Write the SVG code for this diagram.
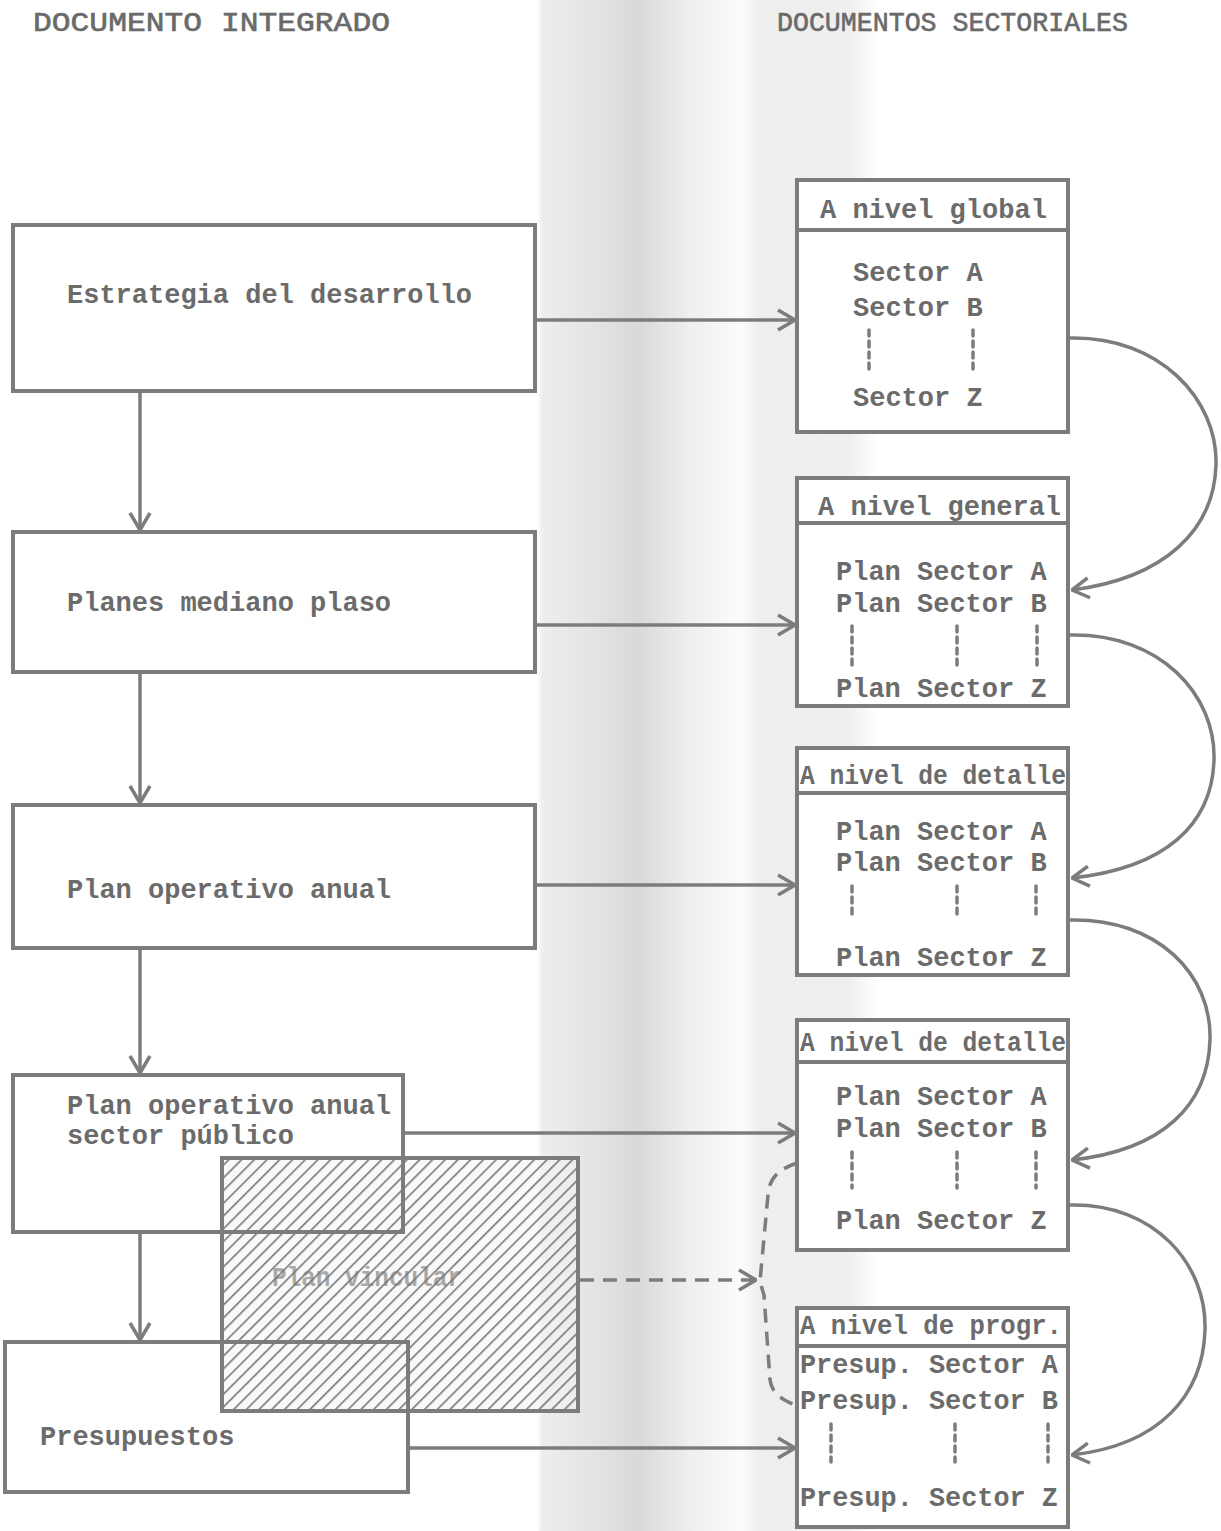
<svg xmlns="http://www.w3.org/2000/svg" width="1221" height="1531" viewBox="0 0 1221 1531">
<defs>
<style>
.t{font-family:"Liberation Mono","DejaVu Sans Mono",monospace;font-weight:bold;font-size:27px;fill:#6b6b6b}
.h{font-family:"Liberation Mono","DejaVu Sans Mono",monospace;font-size:27px;fill:#6a6a6a;stroke:#6a6a6a;stroke-width:0.6}
.b{fill:#fff;stroke:#7c7c7c;stroke-width:4}
.bn{fill:none;stroke:#7c7c7c;stroke-width:4}
.ln{fill:none;stroke:#7c7c7c;stroke-width:3.5}
.ds{fill:none;stroke:#7c7c7c;stroke-width:3.5;stroke-dasharray:14 9}
.dot{stroke:#7c7c7c;stroke-width:3.5;stroke-dasharray:6 5;stroke-linecap:round}
</style>
<marker id="v" viewBox="0 0 20 24" refX="19" refY="12" markerWidth="20" markerHeight="24" markerUnits="userSpaceOnUse" orient="auto">
<path d="M2,2 L19,12 L2,22" fill="none" stroke="#7c7c7c" stroke-width="3.5"/>
</marker>
<pattern id="hatch" width="9" height="9" patternUnits="userSpaceOnUse" patternTransform="rotate(45)">
<rect width="9" height="9" fill="#f4f4f4" fill-opacity="0.5"/>
<line x1="0" y1="0" x2="0" y2="9" stroke="#777777" stroke-width="3.2"/>
</pattern>
<linearGradient id="gut" x1="0" y1="0" x2="1" y2="0">
<stop offset="0" stop-color="#ffffff"/>
<stop offset="0.015" stop-color="#eeeeee"/>
<stop offset="0.16" stop-color="#e4e4e4"/>
<stop offset="0.30" stop-color="#d9d9d9"/>
<stop offset="0.45" stop-color="#efefef"/>
<stop offset="0.60" stop-color="#fbfbfb"/>
<stop offset="0.66" stop-color="#eeeeee"/>
<stop offset="0.92" stop-color="#efefef"/>
<stop offset="1" stop-color="#ffffff"/>
</linearGradient>
</defs>
<rect x="0" y="0" width="1221" height="1531" fill="#ffffff"/>
<rect x="537" y="0" width="340" height="1531" fill="url(#gut)"/>

<g id="headers">
<text class="h" x="33" y="31" textLength="357" lengthAdjust="spacingAndGlyphs">DOCUMENTO INTEGRADO</text>
<text class="h" x="777" y="31" textLength="351" lengthAdjust="spacingAndGlyphs">DOCUMENTOS SECTORIALES</text>
</g>

<g id="n-estrategia">
<rect class="b" x="13" y="225" width="522" height="166"/>
<text class="t" x="67" y="303">Estrategia del desarrollo</text>
</g>
<g id="n-planes">
<rect class="b" x="13" y="532" width="522" height="140"/>
<text class="t" x="67" y="611">Planes mediano plaso</text>
</g>
<g id="n-poa">
<rect class="b" x="13" y="805" width="522" height="143"/>
<text class="t" x="67" y="898">Plan operativo anual</text>
</g>

<g id="n-plan-vincular">
<text class="t" x="272" y="1286" textLength="190" lengthAdjust="spacingAndGlyphs" style="fill:#5e5e5e">Plan vincular</text>
<rect x="222" y="1158" width="356" height="253" fill="url(#hatch)" stroke="#7c7c7c" stroke-width="4"/>
</g>

<g id="n-poa-sp">
<rect class="bn" x="13" y="1075" width="390" height="157"/>
<text class="t" x="67" y="1114">Plan operativo anual</text>
<text class="t" x="67" y="1144">sector público</text>
</g>
<g id="n-presupuestos">
<rect class="bn" x="5" y="1342" width="403" height="150"/>
<text class="t" x="40" y="1445">Presupuestos</text>
</g>

<g id="n-global">
<rect class="b" x="797" y="180" width="271" height="252"/>
<line class="bn" x1="797" y1="230" x2="1068" y2="230"/>
<text class="t" x="820" y="218">A nivel global</text>
<text class="t" x="853" y="281">Sector A</text>
<text class="t" x="853" y="316">Sector B</text>
<line class="dot" x1="869" y1="330" x2="869" y2="370"/>
<line class="dot" x1="973" y1="330" x2="973" y2="370"/>
<text class="t" x="853" y="406">Sector Z</text>
</g>
<g id="n-general">
<rect class="b" x="797" y="478" width="271" height="228"/>
<line class="bn" x1="797" y1="523" x2="1068" y2="523"/>
<text class="t" x="818" y="515">A nivel general</text>
<text class="t" x="836" y="580">Plan Sector A</text>
<text class="t" x="836" y="612">Plan Sector B</text>
<line class="dot" x1="852" y1="626" x2="852" y2="665"/>
<line class="dot" x1="957" y1="626" x2="957" y2="665"/>
<line class="dot" x1="1037" y1="626" x2="1037" y2="665"/>
<text class="t" x="836" y="697">Plan Sector Z</text>
</g>
<g id="n-detalle-1">
<rect class="b" x="797" y="748" width="271" height="227"/>
<line class="bn" x1="797" y1="793" x2="1068" y2="793"/>
<text class="t" x="800" y="784" textLength="266" lengthAdjust="spacingAndGlyphs">A nivel de detalle</text>
<text class="t" x="836" y="840">Plan Sector A</text>
<text class="t" x="836" y="871">Plan Sector B</text>
<line class="dot" x1="852" y1="886" x2="852" y2="918"/>
<line class="dot" x1="957" y1="886" x2="957" y2="918"/>
<line class="dot" x1="1036" y1="886" x2="1036" y2="918"/>
<text class="t" x="836" y="966">Plan Sector Z</text>
</g>
<g id="n-detalle-2">
<rect class="b" x="797" y="1020" width="271" height="230"/>
<line class="bn" x1="797" y1="1062" x2="1068" y2="1062"/>
<text class="t" x="800" y="1051" textLength="266" lengthAdjust="spacingAndGlyphs">A nivel de detalle</text>
<text class="t" x="836" y="1105">Plan Sector A</text>
<text class="t" x="836" y="1137">Plan Sector B</text>
<line class="dot" x1="852" y1="1152" x2="852" y2="1188"/>
<line class="dot" x1="957" y1="1152" x2="957" y2="1188"/>
<line class="dot" x1="1036" y1="1152" x2="1036" y2="1188"/>
<text class="t" x="836" y="1229">Plan Sector Z</text>
</g>
<g id="n-progr">
<rect class="b" x="797" y="1308" width="271" height="219"/>
<line class="bn" x1="797" y1="1346" x2="1068" y2="1346"/>
<text class="t" x="800" y="1334" textLength="262" lengthAdjust="spacingAndGlyphs">A nivel de progr.</text>
<text class="t" x="800" y="1373" textLength="258" lengthAdjust="spacingAndGlyphs">Presup. Sector A</text>
<text class="t" x="800" y="1409" textLength="258" lengthAdjust="spacingAndGlyphs">Presup. Sector B</text>
<line class="dot" x1="831" y1="1424" x2="831" y2="1462"/>
<line class="dot" x1="955" y1="1424" x2="955" y2="1462"/>
<line class="dot" x1="1048" y1="1424" x2="1048" y2="1462"/>
<text class="t" x="800" y="1506" textLength="258" lengthAdjust="spacingAndGlyphs">Presup. Sector Z</text>
</g>

<g id="connectors">
<line class="ln" x1="140" y1="391" x2="140" y2="530" marker-end="url(#v)"/>
<line class="ln" x1="140" y1="672" x2="140" y2="803" marker-end="url(#v)"/>
<line class="ln" x1="140" y1="948" x2="140" y2="1073" marker-end="url(#v)"/>
<line class="ln" x1="140" y1="1232" x2="140" y2="1340" marker-end="url(#v)"/>
<line class="ln" x1="537" y1="320" x2="795" y2="320" marker-end="url(#v)"/>
<line class="ln" x1="537" y1="625" x2="795" y2="625" marker-end="url(#v)"/>
<line class="ln" x1="537" y1="885" x2="795" y2="885" marker-end="url(#v)"/>
<line class="ln" x1="403" y1="1133" x2="795" y2="1133" marker-end="url(#v)"/>
<line class="ln" x1="408" y1="1448" x2="795" y2="1448" marker-end="url(#v)"/>
<path class="ds" d="M580,1280 L756,1280" marker-end="url(#v)"/>
<path class="ds" d="M797,1163 C782,1168 769,1176 768,1195 L761,1270 L760,1282 L764,1295 L770,1380 C772,1395 784,1400 797,1406"/>
<path class="ln" d="M1070,338 C1160,336 1218,400 1216,465 C1214,530 1165,578 1072,590" marker-end="url(#v)"/>
<path class="ln" d="M1070,635 C1160,633 1216,695 1214,760 C1212,825 1165,868 1072,878" marker-end="url(#v)"/>
<path class="ln" d="M1070,920 C1158,918 1212,975 1210,1040 C1208,1105 1163,1150 1072,1160" marker-end="url(#v)"/>
<path class="ln" d="M1070,1205 C1155,1203 1207,1265 1205,1330 C1203,1395 1160,1445 1072,1455" marker-end="url(#v)"/>
</g>
</svg>
